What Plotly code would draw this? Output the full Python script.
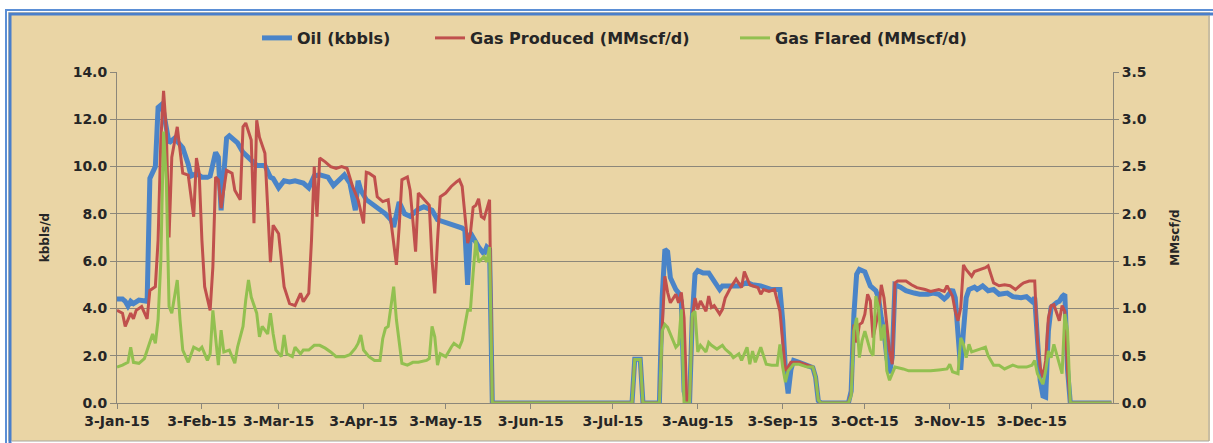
import pandas as pd
import plotly.graph_objects as go

# ---------------- data (day offsets from 3-Jan-2015) ----------------
oil_day = [0, 2, 3, 4, 5, 6, 8, 10, 11, 12, 13, 14, 15, 16, 17, 18, 19, 21, 24, 26, 27, 29, 31, 33, 34,
           36, 37, 38, 39, 40, 41, 44, 46, 49, 51, 54, 56, 57, 59, 61, 63, 65, 68, 70, 72, 74, 77,
           79, 81, 83, 85, 87, 88, 89, 91, 94, 96, 98, 100, 101, 103, 105, 107, 110, 112, 115,
           117, 120, 124, 126, 127, 128, 129, 131, 132, 134, 135, 136, 137, 188, 189, 190, 191,
           192, 198, 199, 200, 201, 202, 204, 205, 206, 207, 208, 209, 210, 211, 212, 214, 216,
           218, 220, 221, 223, 225, 227, 230, 232, 235, 237, 239, 242, 243, 244, 245, 246, 247,
           249, 252, 254, 255, 256, 257, 267, 268, 269, 270, 271, 273, 274, 275, 277, 278, 279,
           280, 281, 282, 283, 284, 286, 288, 291, 293, 296, 298, 300, 302, 303, 305, 306, 307,
           308, 309, 310, 311, 313, 314, 316, 318, 320, 322, 325, 327, 330, 332, 334, 335, 336,
           337, 338, 339, 340, 341, 343, 344, 345, 346, 347, 348, 363]
oil_kbbl = [4.4, 4.4, 4.3, 4.1, 4.3, 4.2, 4.35, 4.3, 4.3, 9.5, 9.8, 10.0, 12.5, 12.6, 12.3, 11.5, 11.0,
            11.2, 10.8, 10.1, 9.6, 9.7, 9.55, 9.55, 9.6, 10.6, 10.4, 8.15, 10.0, 11.2, 11.3, 11.0,
            10.6, 10.3, 10.05, 10.05, 9.55, 9.5, 9.1, 9.4, 9.35, 9.4, 9.3, 9.1, 9.6, 9.65, 9.55,
            9.2, 9.45, 9.65, 9.3, 8.15, 9.4, 9.0, 8.6, 8.35, 8.2, 8.0, 7.75, 7.45, 8.5, 8.0, 7.9,
            8.2, 8.3, 8.15, 7.75, 7.65, 7.5, 7.4, 7.3, 5.0, 7.2, 6.75, 6.6, 6.3, 6.6, 6.5, 0.0,
            0.0, 1.85, 1.85, 1.85, 0.0, 0.0, 4.45, 6.5, 6.4, 5.3, 4.8, 4.65, 4.3, 0.5, 0.0, 0.0,
            3.6, 5.45, 5.6, 5.5, 5.5, 5.15, 4.8, 4.95, 4.95, 5.0, 4.95, 5.1, 5.0, 4.95, 4.9, 4.8,
            4.8, 3.5, 1.4, 0.4, 1.4, 1.8, 1.72, 1.58, 1.5, 1.1, 0.1, 0.0, 0.0, 0.5, 3.75, 5.45,
            5.65, 5.55, 5.2, 4.95, 4.75, 4.45, 3.6, 3.05, 1.95, 1.25, 1.95, 5.0, 4.9, 4.75, 4.65,
            4.6, 4.6, 4.65, 4.6, 4.4, 4.5, 4.8, 4.45, 2.6, 1.4, 3.05, 4.45, 4.8, 4.9, 4.8, 4.95,
            4.75, 4.8, 4.6, 4.65, 4.5, 4.45, 4.5, 4.3, 4.45, 2.6, 0.95, 0.3, 0.25, 3.05, 4.05,
            4.25, 4.3, 4.5, 4.6, 1.4, 0.0, 0.0]

gas_prod_day = [0, 2, 3, 5, 6, 7, 9, 11, 12, 14, 15, 16, 17, 18, 19, 20, 22, 23, 24, 26, 28, 29, 30,
                31, 32, 34, 35, 36, 37, 38, 40, 42, 43, 45, 46, 47, 49, 50, 51, 52, 54, 55, 56, 57,
                59, 60, 61, 63, 65, 67, 68, 70, 71, 72, 73, 74, 76, 78, 80, 82, 84, 86, 88, 90, 91,
                92, 94, 95, 97, 99, 100, 101, 102, 103, 104, 106, 107, 108, 109, 110, 112, 114, 115,
                116, 117, 118, 120, 122, 124, 125, 126, 128, 129, 130, 131, 132, 133, 134, 136, 137,
                188, 189, 190, 191, 192, 198, 199, 200, 201, 202, 204, 205, 206, 207, 208, 209, 210,
                211, 212, 213, 215, 216, 217, 218, 220, 221, 222, 224, 226, 227, 228, 229, 231, 232,
                234, 235, 236, 238, 240, 242, 243, 244, 245, 246, 249, 252, 254, 255, 256, 257, 267,
                268, 269, 270, 271, 272, 273, 274, 275, 276, 278, 279, 280, 281, 282, 283, 284, 285,
                288, 290, 292, 295, 297, 300, 302, 303, 305, 306, 307, 308, 309, 310, 312, 313, 315,
                317, 318, 320, 322, 324, 326, 328, 330, 331, 333, 335, 336, 337, 338, 339, 340, 341,
                342, 344, 345, 346, 347, 348, 363]
gas_prod_mmscfd = [0.98, 0.95, 0.81, 0.95, 0.89, 0.98, 1.02, 0.89, 1.19, 1.23, 1.72, 2.78, 3.3, 2.88,
                   1.75, 2.6, 2.92, 2.7, 2.43, 2.41, 1.97, 2.59, 2.43, 1.72, 1.23, 0.98, 1.44, 2.39,
                   2.36, 2.06, 2.46, 2.43, 2.25, 2.15, 2.92, 2.96, 2.78, 1.9, 2.99, 2.81, 2.64, 2.07,
                   1.49, 1.88, 1.79, 1.51, 1.23, 1.05, 1.03, 1.16, 1.07, 1.16, 1.72, 2.5, 1.97, 2.59,
                   2.55, 2.5, 2.48, 2.5, 2.48, 2.29, 2.15, 1.9, 2.44, 2.43, 2.39, 2.18, 2.13, 2.15,
                   1.93, 1.65, 1.46, 1.86, 2.36, 2.39, 2.25, 1.93, 1.6, 2.22, 2.15, 2.09, 1.51, 1.16,
                   1.72, 2.18, 2.22, 2.29, 2.34, 2.36, 2.29, 1.69, 1.79, 2.07, 2.09, 2.16, 1.97, 1.95,
                   2.15, 0.0, 0.0, 0.46, 0.46, 0.46, 0.0, 0.0, 0.8, 1.34, 1.17, 1.06, 1.15, 1.06, 1.17,
                   0.9, 0.0, 0.0, 0.9, 1.11, 0.99, 1.08, 0.97, 1.13, 1.01, 1.03, 0.94, 0.99, 1.11,
                   1.22, 1.31, 1.27, 1.22, 1.39, 1.25, 1.24, 1.22, 1.15, 1.2, 1.18, 1.2, 0.97, 0.66,
                   0.34, 0.38, 0.43, 0.43, 0.4, 0.38, 0.28, 0.03, 0.0, 0.0, 0.1, 0.83, 0.64, 0.83,
                   0.85, 0.94, 1.15, 1.08, 0.69, 0.97, 1.25, 1.11, 0.83, 0.55, 0.41, 1.27, 1.29, 1.29,
                   1.25, 1.22, 1.2, 1.18, 1.2, 1.18, 1.24, 1.13, 0.97, 0.87, 1.01, 1.46, 1.41, 1.34,
                   1.39, 1.41, 1.43, 1.45, 1.27, 1.24, 1.25, 1.24, 1.2, 1.25, 1.27, 1.29, 1.29, 0.65,
                   0.38, 0.27, 0.45, 0.9, 1.03, 1.04, 0.87, 1.03, 0.97, 0.34, 0.0, 0.0]

gas_flared_day = [0, 2, 4, 5, 6, 8, 10, 12, 13, 14, 15, 16, 17, 18, 19, 20, 22, 23, 24, 26, 28, 30,
                  31, 33, 34, 35, 37, 38, 39, 41, 43, 44, 46, 47, 48, 49, 51, 52, 53, 55, 56, 57, 58,
                  60, 61, 62, 64, 65, 67, 68, 70, 72, 74, 76, 78, 80, 83, 85, 87, 88, 89, 90, 92, 94,
                  96, 97, 98, 99, 100, 101, 102, 104, 106, 108, 110, 113, 114, 115, 116, 117, 118,
                  120, 122, 123, 125, 126, 128, 129, 130, 131, 132, 134, 135, 136, 137, 188, 189, 190,
                  191, 192, 198, 199, 200, 201, 203, 204, 205, 206, 207, 209, 210, 211, 212, 213, 215,
                  216, 217, 219, 221, 222, 224, 225, 227, 228, 230, 231, 232, 233, 235, 236, 237, 239,
                  241, 242, 243, 244, 245, 247, 249, 252, 254, 255, 256, 257, 267, 268, 269, 270, 271,
                  272, 273, 275, 276, 277, 278, 279, 280, 281, 282, 283, 284, 287, 289, 293, 297, 300,
                  303, 304, 305, 307, 308, 309, 310, 311, 312, 315, 317, 318, 320, 322, 324, 327, 329,
                  332, 334, 335, 336, 338, 339, 340, 341, 342, 344, 345, 346, 347, 348, 363]
gas_flared_mmscfd = [0.38, 0.4, 0.43, 0.59, 0.43, 0.42, 0.47, 0.63, 0.73, 0.63, 0.88, 1.5, 2.87, 2.36,
                     1.02, 0.95, 1.3, 0.88, 0.56, 0.43, 0.59, 0.56, 0.59, 0.45, 0.52, 0.98, 0.4,
                     0.77, 0.54, 0.56, 0.42, 0.59, 0.81, 1.09, 1.3, 1.12, 0.95, 0.7, 0.81, 0.73, 0.95,
                     0.73, 0.56, 0.49, 0.72, 0.52, 0.49, 0.59, 0.52, 0.56, 0.56, 0.61, 0.61, 0.58,
                     0.54, 0.49, 0.49, 0.51, 0.58, 0.63, 0.72, 0.56, 0.49, 0.45, 0.45, 0.68, 0.79,
                     0.81, 1.02, 1.23, 0.88, 0.42, 0.4, 0.43, 0.43, 0.45, 0.47, 0.81, 0.7, 0.4, 0.52,
                     0.49, 0.59, 0.63, 0.59, 0.66, 0.98, 0.98, 1.37, 1.72, 1.49, 1.55, 1.49, 1.65, 0.0,
                     0.0, 0.46, 0.46, 0.46, 0.0, 0.0, 0.76, 0.83, 0.8, 0.66, 0.59, 0.62, 0.99, 0.0, 0.0,
                     0.94, 0.97, 0.54, 0.61, 0.54, 0.64, 0.61, 0.57, 0.61, 0.57, 0.52, 0.48, 0.52,
                     0.45, 0.59, 0.41, 0.55, 0.43, 0.59, 0.5, 0.41, 0.4, 0.4, 0.62, 0.38, 0.22, 0.34,
                     0.41, 0.41, 0.38, 0.38, 0.28, 0.03, 0.0, 0.0, 0.08, 0.76, 0.9, 0.48, 0.66, 0.76,
                     0.55, 0.5, 1.13, 1.01, 0.66, 0.83, 0.34, 0.24, 0.31, 0.38, 0.36, 0.34, 0.34, 0.34,
                     0.35, 0.36, 0.41, 0.33, 0.31, 0.69, 0.62, 0.48, 0.62, 0.54, 0.57, 0.59, 0.5, 0.4,
                     0.4, 0.36, 0.4, 0.38, 0.38, 0.4, 0.45, 0.31, 0.2, 0.34, 0.55, 0.48, 0.62, 0.41,
                     0.31, 0.94, 0.76, 0.0, 0.0]

tick_dates = ["2015-01-03", "2015-02-03", "2015-03-03", "2015-04-03", "2015-05-03", "2015-06-03",
              "2015-07-03", "2015-08-03", "2015-09-03", "2015-10-03", "2015-11-03", "2015-12-03"]
tick_labels = ["3-Jan-15", "3-Feb-15", "3-Mar-15", "3-Apr-15", "3-May-15", "3-Jun-15",
               "3-Jul-15", "3-Aug-15", "3-Sep-15", "3-Oct-15", "3-Nov-15", "3-Dec-15"]

start = pd.Timestamp("2015-01-03")


def to_dates(days):
    return [start + pd.Timedelta(days=d) for d in days]


# ---------------- layout geometry ----------------
W, H = 1213, 443
L, R, T, B = 117, 1113, 72, 403
PW, PH = R - L, B - T


def px(x):
    return (x - L) / PW


def py(y):
    return (B - y) / PH


FONT = "DejaVu Sans"
TXT = "#262626"
GRID = "#8C877A"

fig = go.Figure()
fig.add_trace(go.Scatter(x=to_dates(oil_day), y=oil_kbbl, name="Oil (kbbls)", mode="lines",
                         line=dict(color="#4A84C8", width=5), legend="legend", showlegend=True))
fig.add_trace(go.Scatter(x=to_dates(gas_prod_day), y=gas_prod_mmscfd, name="Gas Produced (MMscf/d)",
                         mode="lines", line=dict(color="#C0504D", width=3), yaxis="y2",
                         legend="legend2", showlegend=True))
fig.add_trace(go.Scatter(x=to_dates(gas_flared_day), y=gas_flared_mmscfd, name="Gas Flared (MMscf/d)",
                         mode="lines", line=dict(color="#92C050", width=3), yaxis="y2",
                         legend="legend3", showlegend=True))

legend_font = dict(family=FONT, size=16, color=TXT, weight="bold")
leg_common = dict(orientation="h", yanchor="middle", xanchor="left", bgcolor="rgba(0,0,0,0)",
                  font=legend_font, borderwidth=0)
tick_font = dict(family=FONT, size=14, color=TXT, weight="bold")

fig.update_layout(
    width=W, height=H,
    showlegend=True,
    margin=dict(l=L, r=W - R, t=T, b=H - B, autoexpand=False),
    paper_bgcolor="white",
    plot_bgcolor="rgba(0,0,0,0)",
    legend=dict(x=px(257), y=py(38), **leg_common),
    legend2=dict(x=px(430), y=py(38), **leg_common),
    legend3=dict(x=px(735), y=py(38), **leg_common),
    xaxis=dict(
        type="date", range=["2015-01-03", "2016-01-01 14:00"], automargin=False,
        tickvals=tick_dates, ticktext=tick_labels,
        ticks="outside", ticklen=5, tickcolor=GRID,
        showgrid=False, showline=True, linecolor=GRID, linewidth=1,
        tickfont=tick_font,
        zeroline=False,
    ),
    yaxis=dict(
        range=[0, 14], dtick=2, tickformat=".1f", automargin=False,
        showgrid=True, gridcolor=GRID, gridwidth=1,
        showline=True, linecolor=GRID, linewidth=1,
        ticks="outside", ticklen=6, tickcolor=GRID,
        tickfont=tick_font,
        title=dict(text="kbbls/d", font=dict(family=FONT, size=12, color=TXT, weight="bold"),
                   standoff=20),
        zeroline=False,
    ),
    yaxis2=dict(
        range=[0, 3.5], dtick=0.5, tickformat=".1f", overlaying="y", side="right",
        automargin=False,
        showgrid=False, showline=True, linecolor=GRID, linewidth=1,
        ticks="outside", ticklen=5, tickcolor=GRID,
        tickfont=tick_font,
        title=dict(text="MMscf/d", font=dict(family=FONT, size=12, color=TXT, weight="bold"),
                   standoff=24),
        zeroline=False,
    ),
    shapes=[
        # parchment panel
        dict(type="rect", xref="paper", yref="paper", layer="below",
             x0=px(8), x1=px(1210), y0=py(441), y1=py(12),
             fillcolor="#EAD5A5", line=dict(width=0)),
        # blue double frame
        dict(type="rect", xref="paper", yref="paper", layer="above",
             x0=px(6), x1=px(1216), y0=py(446), y1=py(10),
             fillcolor="rgba(0,0,0,0)", line=dict(color="#5B8FD6", width=2)),
        dict(type="rect", xref="paper", yref="paper", layer="above",
             x0=px(10), x1=px(1218), y0=py(448), y1=py(14),
             fillcolor="rgba(0,0,0,0)", line=dict(color="#4A7FCB", width=3)),
        dict(type="line", xref="paper", yref="paper", layer="above",
             x0=px(1209), x1=px(1209), y0=py(441), y1=py(16),
             line=dict(color="#A8A59C", width=1)),
        dict(type="line", xref="paper", yref="paper", layer="above",
             x0=px(12), x1=px(1209), y0=py(441), y1=py(441),
             line=dict(color="#A8A59C", width=1)),
    ],
)

fig.write_html("out.html", config={"displayModeBar": False},
               post_script="document.body.style.margin='0px';document.body.style.padding='0px';")
